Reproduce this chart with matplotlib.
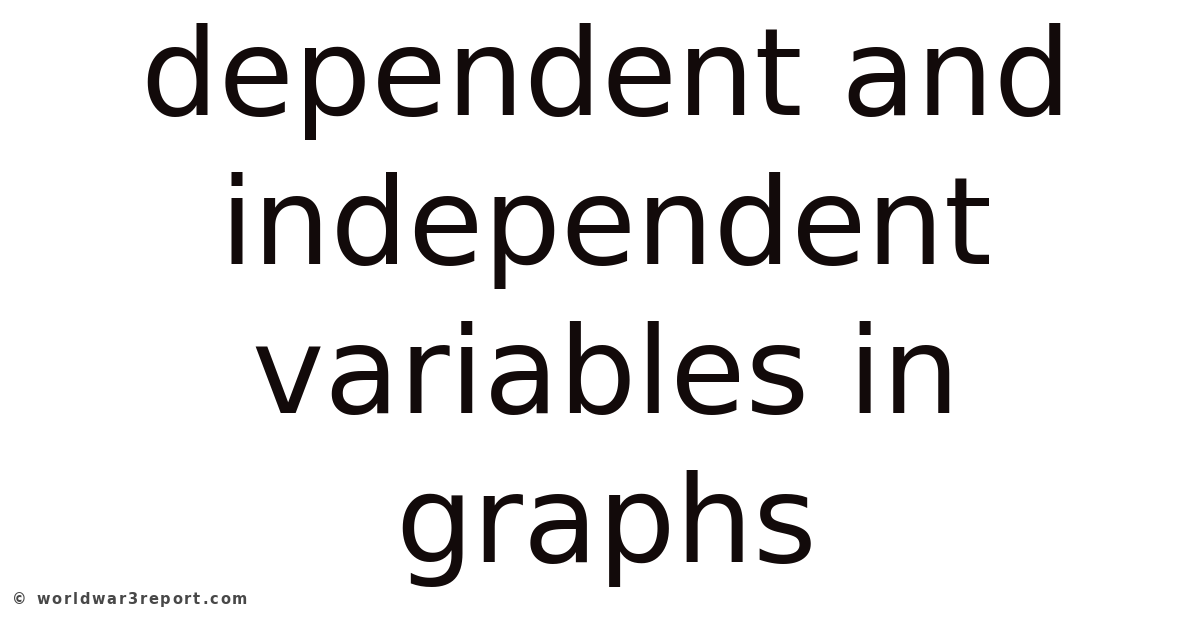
import matplotlib
matplotlib.use('agg')
import matplotlib.pyplot as plt

# title lines and their baselines (pixels from top)
lines = ['dependent and', 'independent', 'variables in', 'graphs']
baselines = [115, 264, 413, 562]
credit = '\u00a9 worldwar3report.com'

W, H = 1200, 628
fig = plt.figure(figsize=(W / 100, H / 100), dpi=100)
fig.patch.set_facecolor('white')

for txt, yb in zip(lines, baselines):
    fig.text(606 / W, 1 - yb / H, txt, ha='center', va='baseline',
             fontsize=88, family='DejaVu Sans', color='#120a0a')

# credit line is a wide, letter-spaced face: lay it out one glyph at a time
renderer = fig.canvas.get_renderer()
x0, x1 = 12, 247
fs = 10.5
widths = []
for ch in credit:
    t = fig.text(0, 0, ch, fontsize=fs, family='DejaVu Sans',
                 fontweight='bold')
    widths.append(t.get_window_extent(renderer).width if ch != ' ' else 6.0)
    t.remove()
gap = (x1 - x0 - sum(widths)) / (len(credit) - 1)
x = x0
for ch, w in zip(credit, widths):
    fig.text(x / W, 1 - 604 / H, ch, ha='left', va='baseline', fontsize=fs,
             family='DejaVu Sans', fontweight='bold', color='#484848')
    x += w + gap

fig.savefig('out.png', dpi=100, facecolor='white')
